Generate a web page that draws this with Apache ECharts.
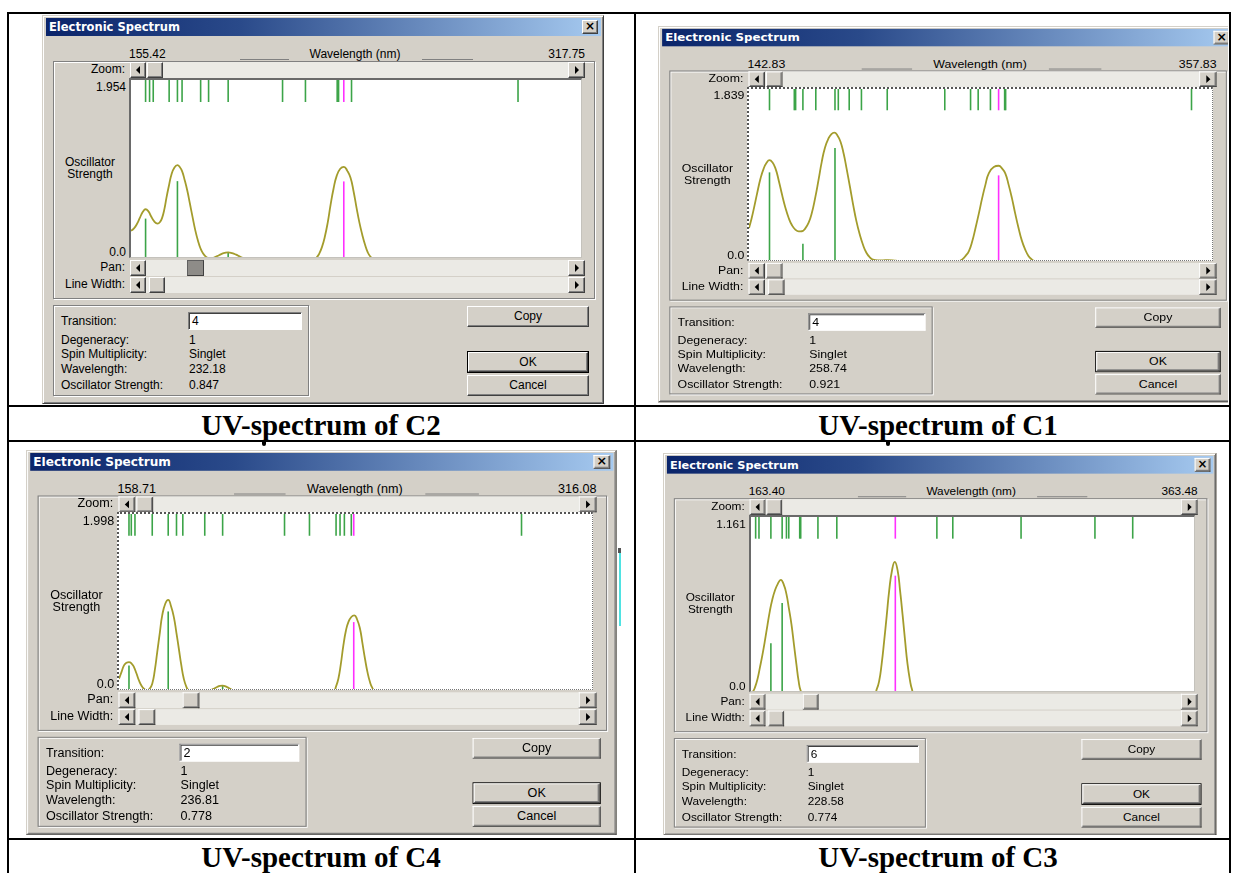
<!DOCTYPE html>
<html><head><meta charset="utf-8">
<script src="https://cdn.jsdelivr.net/npm/echarts@6/dist/echarts.min.js"></script>
<style>
*{box-sizing:border-box;}
body{margin:0;width:1239px;height:873px;background:#fff;position:relative;overflow:hidden;font-family:"Liberation Sans",Arial,sans-serif;}
</style></head><body>
<script>
// ---------------- DATA ----------------
const captions = ['UV-spectrum of C2', 'UV-spectrum of C1', 'UV-spectrum of C4', 'UV-spectrum of C3'];
const infoLabels = ['Transition:', 'Degeneracy:', 'Spin Multiplicity:', 'Wavelength:', 'Oscillator Strength:'];
const axisTitle = 'Wavelength (nm)';
const yTitle = ['Oscillator', 'Strength'];

// C2
const c2RangeLabels = ['155.42', '317.75'];
const c2Range = [155.42, 317.75];
const c2YTicks = ['0.0', '1.954'];
const c2YMax = 1.954;
const c2Wavelengths = [160.68, 162.12, 163.44, 169.18, 172.17, 173.84, 180.54, 183.41, 190.47, 210.09, 218.35, 229.8, 230.3, 232.18, 234.97, 295.03];
const c2Strengths   = [0.441, 0, 0, 0, 0.850, 0, 0, 0, 0.072, 0, 0, 0, 0, 0.847, 0, 0];
const c2Selected = 232.18;
const c2CurveX = [155.42, 156.5, 157.6, 158.65, 159.7, 160.68, 161.7, 162.6, 163.8, 164.99, 165.9, 166.67, 167.5, 168.22, 169.1, 170.02, 171.1, 172.17, 173.0, 173.84, 174.8, 175.76, 176.7, 177.67, 178.6, 179.58, 180.5, 181.38, 182.3, 183.17, 184.4, 185.57, 186.8, 187.96, 189.2, 190.47, 191.9, 193.34, 195.0, 196.93, 198.5, 221.46, 222.4, 223.25, 224.3, 225.28, 226.4, 227.44, 228.5, 229.59, 230.9, 232.22, 233.4, 234.61, 235.7, 236.77, 237.8, 238.8, 239.8, 240.83, 241.8, 242.75, 244.0, 317.75];
const c2CurveY = [0.308, 0.335, 0.385, 0.452, 0.515, 0.543, 0.520, 0.470, 0.410, 0.387, 0.405, 0.452, 0.550, 0.670, 0.800, 0.923, 1.000, 1.024, 1.005, 0.959, 0.860, 0.742, 0.600, 0.452, 0.315, 0.199, 0.115, 0.062, 0.028, 0.011, 0.008, 0.018, 0.036, 0.054, 0.066, 0.072, 0.064, 0.047, 0.022, 0.004, 0, 0, 0.018, 0.054, 0.130, 0.235, 0.400, 0.597, 0.770, 0.905, 0.985, 1.006, 0.965, 0.887, 0.740, 0.561, 0.400, 0.271, 0.160, 0.072, 0.025, 0.004, 0, 0];
const c2Info = ['4', '1', 'Singlet', '232.18', '0.847'];

// C1
const c1RangeLabels = ['142.83', '357.83'];
const c1Range = [142.83, 357.83];
const c1YTicks = ['0.0', '1.839'];
const c1YMax = 1.839;
const c1Wavelengths = [152.35, 163.87, 164.48, 167.86, 173.85, 182.76, 184.30, 189.36, 195.04, 207.02, 233.74, 245.72, 249.25, 254.94, 258.74, 261.54, 262.0, 348.31];
const c1Strengths   = [0.953, 0, 0, 0.193, 0, 1.213, 0, 0, 0, 0.02, 0, 0, 0, 0, 0.921, 0, 0, 0];
const c1Selected = 258.74;
const c1CurveX = [142.83, 144.0, 145.13, 146.6, 148.2, 149.6, 151.0, 152.35, 153.7, 155.11, 156.6, 158.19, 159.7, 161.26, 162.8, 164.33, 165.9, 167.4, 168.9, 170.47, 172.0, 173.54, 175.1, 176.61, 178.1, 179.69, 181.1, 182.45, 183.9, 185.37, 186.8, 188.13, 189.7, 191.2, 192.7, 194.27, 195.8, 197.35, 198.9, 200.42, 202.7, 205.02, 207.3, 209.63, 212.0, 214.24, 217.31, 238.81, 240.3, 241.88, 243.4, 244.95, 246.5, 248.02, 249.6, 251.1, 252.6, 254.17, 256.5, 258.77, 260.3, 261.84, 263.4, 264.92, 266.4, 267.99, 269.5, 271.06, 272.6, 274.13, 275.7, 277.2, 357.83];
const c1CurveY = [0.362, 0.460, 0.573, 0.730, 0.890, 0.990, 1.055, 1.083, 1.060, 0.995, 0.870, 0.714, 0.580, 0.468, 0.390, 0.345, 0.325, 0.327, 0.355, 0.415, 0.520, 0.679, 0.870, 1.065, 1.215, 1.311, 1.360, 1.375, 1.345, 1.276, 1.150, 0.995, 0.800, 0.608, 0.435, 0.292, 0.180, 0.098, 0.050, 0.025, 0.018, 0.018, 0.019, 0.018, 0.010, 0.004, 0, 0, 0.008, 0.028, 0.065, 0.116, 0.220, 0.362, 0.520, 0.679, 0.820, 0.942, 1.010, 1.023, 0.995, 0.942, 0.820, 0.679, 0.520, 0.362, 0.230, 0.134, 0.065, 0.028, 0.008, 0, 0];
const c1Info = ['4', '1', 'Singlet', '258.74', '0.921'];

// C4
const c4RangeLabels = ['158.71', '316.08'];
const c4Range = [158.71, 316.08];
const c4YTicks = ['0.0', '1.998'];
const c4YMax = 1.998;
const c4Wavelengths = [162.03, 162.80, 164.02, 169.77, 175.08, 177.84, 179.94, 187.24, 193.19, 213.78, 222.08, 230.93, 232.25, 233.69, 236.0, 236.81, 292.63];
const c4Strengths   = [0.289, 0, 0, 0, 0.898, 0, 0, 0, 0.056, 0, 0, 0, 0, 0, 0, 0.778, 0];
const c4Selected = 236.81;
const c4CurveX = [158.71, 159.5, 160.37, 161.2, 162.03, 162.9, 163.69, 164.5, 165.35, 166.2, 167.0, 168.11, 168.9, 169.77, 170.6, 171.43, 172.3, 173.09, 174.1, 175.08, 176.0, 176.96, 177.8, 178.62, 179.4, 180.27, 181.1, 181.93, 183.5, 188.0, 189.12, 190.2, 191.33, 192.3, 193.19, 194.2, 195.2, 196.3, 197.42, 230.04, 230.9, 231.7, 232.5, 233.36, 234.2, 235.02, 236.0, 237.0, 237.9, 238.89, 239.7, 240.55, 241.4, 242.21, 243.0, 243.87, 316.08];
const c4CurveY = [0.139, 0.210, 0.289, 0.318, 0.327, 0.310, 0.270, 0.200, 0.120, 0.060, 0.026, 0.008, 0.025, 0.083, 0.230, 0.439, 0.660, 0.853, 0.985, 1.029, 0.960, 0.834, 0.660, 0.477, 0.300, 0.139, 0.050, 0.008, 0, 0, 0.008, 0.025, 0.045, 0.057, 0.060, 0.052, 0.034, 0.014, 0, 0, 0.050, 0.139, 0.300, 0.515, 0.680, 0.777, 0.835, 0.853, 0.810, 0.702, 0.540, 0.364, 0.210, 0.101, 0.035, 0, 0];
const c4Info = ['2', '1', 'Singlet', '236.81', '0.778'];

// C3
const c3RangeLabels = ['163.40', '363.48'];
const c3Range = [163.40, 363.48];
const c3YTicks = ['0.0', '1.161'];
const c3YMax = 1.161;
const c3Wavelengths = [165.5, 167.0, 172.38, 177.47, 179.41, 180.46, 185.4, 185.85, 193.63, 202.16, 228.58, 247.35, 254.54, 285.37, 318.74, 335.8];
const c3Strengths   = [0, 0, 0.329, 0.593, 0, 0, 0, 0, 0, 0, 0.774, 0, 0, 0, 0, 0];
const c3Selected = 228.58;
const c3CurveX = [163.4, 164.3, 165.2, 166.3, 167.44, 168.6, 169.69, 170.8, 171.93, 173.0, 174.17, 175.5, 176.87, 178.2, 179.41, 180.5, 181.66, 182.8, 183.9, 184.9, 185.85, 186.9, 219.07, 220.2, 221.31, 222.4, 223.56, 224.7, 225.8, 227.1, 228.35, 229.6, 230.74, 231.9, 232.99, 234.1, 235.23, 236.1, 237.03, 363.48];
const c3CurveY = [0, 0.010, 0.037, 0.090, 0.169, 0.255, 0.345, 0.445, 0.542, 0.615, 0.674, 0.720, 0.746, 0.715, 0.652, 0.560, 0.454, 0.320, 0.191, 0.080, 0.015, 0, 0, 0.025, 0.081, 0.190, 0.345, 0.510, 0.674, 0.810, 0.865, 0.810, 0.674, 0.510, 0.345, 0.190, 0.081, 0.025, 0, 0];
const c3Info = ['6', '1', 'Singlet', '228.58', '0.774'];

// ---------------- STYLE / LAYOUT ----------------
const GREEN = '#3ca448', MAGENTA = '#ff30ff', CURVE = '#a39c2c';
const TOP_FRAC = 0.123;
const FACE = '#d4d0c8';

const panels = [
  {cap: 0, rl: c2RangeLabels, range: c2Range, yt: c2YTicks, ymax: c2YMax, w: c2Wavelengths, f: c2Strengths, sel: c2Selected, cx: c2CurveX, cy: c2CurveY, info: c2Info,
   x0: 42, y0: 15, sx: 1, sy: 1, pan: 144, panDown: true, dotted: false, capX: 321, capY: 425},
  {cap: 1, rl: c1RangeLabels, range: c1Range, yt: c1YTicks, ymax: c1YMax, w: c1Wavelengths, f: c1Strengths, sel: c1Selected, cx: c1CurveX, cy: c1CurveY, info: c1Info,
   x0: 657.5, y0: 26.1, sx: 1.0287, sy: 0.967, pan: 104, panDown: false, dotted: true, capX: 938, capY: 425},
  {cap: 2, rl: c4RangeLabels, range: c4Range, yt: c4YTicks, ymax: c4YMax, w: c4Wavelengths, f: c4Strengths, sel: c4Selected, cx: c4CurveX, cy: c4CurveY, info: c4Info,
   x0: 25.6, y0: 449.7, sx: 1.0508, sy: 0.989, pan: 148, panDown: false, dotted: true, capX: 321, capY: 857},
  {cap: 3, rl: c3RangeLabels, range: c3Range, yt: c3YTicks, ymax: c3YMax, w: c3Wavelengths, f: c3Strengths, sel: c3Selected, cx: c3CurveX, cy: c3CurveY, info: c3Info,
   x0: 663.3, y0: 453, sx: 0.9845, sy: 0.983, pan: 141, panDown: false, dotted: false, capX: 938, capY: 857}
];

function el(parent, css, text) {
  const e = document.createElement('div');
  e.style.cssText = 'position:absolute;' + css;
  if (text != null) e.textContent = text;
  parent.appendChild(e);
  return e;
}
function txt(parent, s, x, yc, align, extra) {
  const left = align === 'l' ? x : (align === 'r' ? x - 300 : x - 150);
  return el(parent, `left:${left}px;top:${yc - 8}px;width:300px;height:16px;line-height:16px;white-space:nowrap;` +
    `text-align:${align === 'l' ? 'left' : align === 'r' ? 'right' : 'center'};font-size:12px;color:#000;` + (extra || ''), s);
}
function btn(parent, x, y, w, h, extra) {
  return el(parent, `left:${x}px;top:${y}px;width:${w}px;height:${h}px;background:${FACE};border:1px solid;border-color:#fff #404040 #404040 #fff;box-shadow:inset -1px -1px 0 #808080;` + (extra || ''));
}
function arrow(parent, x, y, w, h, dir) {
  const b = btn(parent, x, y, w, h);
  el(b, `left:${(w - 2) / 2 - 2}px;top:${(h - 2) / 2 - 4}px;width:0;height:0;border-top:4px solid transparent;border-bottom:4px solid transparent;` +
    (dir < 0 ? 'border-right:4px solid #000;' : 'border-left:4px solid #000;'));
}
function scroll(parent, x, y, w, h, thumb, down) {
  el(parent, `left:${x}px;top:${y}px;width:${w}px;height:${h}px;background:#ebeae5;`);
  arrow(parent, x, y, 16, h, -1);
  arrow(parent, x + w - 17, y, 17, h, 1);
  if (down) {
    el(parent, `left:${thumb}px;top:${y}px;width:17px;height:${h}px;background:#8e8c88;border:1px solid;border-color:#606060 #404040 #404040 #606060;`);
  } else {
    btn(parent, thumb, y, 16, h);
  }
}
function etched(parent, x, y, w, h) {
  el(parent, `left:${x}px;top:${y}px;width:${w}px;height:${h}px;border:1px solid #808080;box-shadow:1px 1px 0 #fff, inset 1px 1px 0 #fff;`);
}

// ---------------- TABLE ----------------
const page = document.body;
const lines = [
  'left:7px;top:12px;width:1224px;height:2px;',
  'left:7px;top:12px;width:2px;height:861px;',
  'left:1229px;top:12px;width:2px;height:861px;',
  'left:634px;top:12px;width:2px;height:861px;',
  'left:7px;top:405px;width:1224px;height:2px;',
  'left:7px;top:440px;width:1224px;height:2px;',
  'left:7px;top:838px;width:1224px;height:2px;'
];
lines.forEach(c => el(page, c + 'background:#000;'));
// small anchor marks and stray cyan line from the source document
el(page, 'left:262px;top:441px;width:4px;height:5px;background:#000;border-radius:0 0 2px 2px;');
el(page, 'left:886px;top:441px;width:4px;height:5px;background:#000;border-radius:0 0 2px 2px;');
el(page, 'left:618px;top:548px;width:3px;height:5px;background:#555;');
el(page, 'left:619px;top:553px;width:2px;height:73px;background:#4fe3e3;');

// ---------------- DIALOGS ----------------
panels.forEach((p) => {
  const wrap = el(page, 'left:0;top:0;width:1228px;height:873px;overflow:hidden;z-index:2;');
  const d = el(wrap, `left:${p.x0}px;top:${p.y0}px;width:562px;height:389px;transform:scale(${p.sx},${p.sy});transform-origin:0 0;` +
    `background:${FACE};border:1px solid;border-color:${FACE} #404040 #404040 ${FACE};box-shadow:inset 1px 1px 0 #fff, inset -1px -1px 0 #808080;`);
  // title bar
  el(d, 'left:3px;top:2px;width:555px;height:18px;background:linear-gradient(to right,#0a246a 0%,#2a4a8a 35%,#a6caf0 100%);');
  txt(d, 'Electronic Spectrum', 6, 11, 'l', 'color:#fff;font-family:"DejaVu Sans",sans-serif;font-weight:bold;font-size:11.5px;');
  const cb = btn(d, 539, 4, 16, 14);
  el(cb, 'left:0;top:-2px;width:14px;height:14px;line-height:14px;text-align:center;font-family:"DejaVu Sans",sans-serif;font-weight:bold;font-size:12px;color:#000;', '\u00d7');
  // wavelength header
  txt(d, p.rl[0], 86, 38, 'l');
  txt(d, axisTitle, 312, 38, 'c');
  txt(d, p.rl[1], 542, 38, 'r');
  el(d, 'left:197px;top:43px;width:49px;height:1px;background:#808080;');
  el(d, 'left:379px;top:43px;width:51px;height:1px;background:#808080;');
  // group box
  etched(d, 10, 45, 542, 238);
  txt(d, 'Zoom:', 82, 53, 'r');
  scroll(d, 87, 46, 455, 16, 104, false);
  txt(d, p.yt[1], 83, 71, 'r');
  txt(d, p.yt[0], 83, 236, 'r');
  txt(d, yTitle[0], 47, 146, 'c');
  txt(d, yTitle[1], 47, 158, 'c');
  txt(d, 'Pan:', 82, 251, 'r');
  scroll(d, 87, 244, 455, 16, p.pan, p.panDown);
  txt(d, 'Line Width:', 82, 268, 'r');
  scroll(d, 87, 261, 455, 16, 106, false);
  // info box
  etched(d, 10, 289, 256, 91);
  const ys = [305, 324, 338, 353, 369];
  infoLabels.forEach((s, i) => {
    txt(d, s, 18, ys[i], 'l');
    if (i === 0) {
      const fld = el(d, 'left:145px;top:296px;width:114px;height:18px;background:#fff;border:1px solid;border-color:#808080 #fff #fff #808080;box-shadow:inset 1px 1px 0 #404040;');
      txt(fld, p.info[0], 3, 8, 'l');
    } else {
      txt(d, p.info[i], 146, ys[i], 'l');
    }
  });
  // buttons
  const copy = btn(d, 424, 290, 122, 21);
  txt(copy, 'Copy', 60, 9, 'c');
  const okFrame = el(d, 'left:424px;top:335px;width:122px;height:22px;border:1px solid #000;');
  const ok = btn(okFrame, 0, 0, 120, 20);
  txt(ok, 'OK', 59, 8.5, 'c');
  const cancel = btn(d, 424, 359, 122, 21);
  txt(cancel, 'Cancel', 60, 9, 'c');

  // ---- chart (ECharts) ----
  const px = p.x0 + 87 * p.sx, py = p.y0 + 63 * p.sy, pw = 453 * p.sx, ph = 180 * p.sy;
  const frame = p.dotted
    ? 'border-style:dotted;border-width:2px 1px 1px 2px;border-color:#555 #777 #777 #555;'
    : 'border-style:solid;border-width:2px 1px 1px 2px;border-color:#6a6a6a #c4c2bc #c4c2bc #6a6a6a;';
  const box = el(wrap, `left:${px}px;top:${py}px;width:${pw}px;height:${ph}px;background:#fff;overflow:hidden;${frame}z-index:3;`);
  // chart is 4px taller than the visible area so the zero baseline of the curve hides just below the frame
  const cdiv = el(box, `left:0;top:0;width:${pw - 3}px;height:${ph - 3 + 4}px;`);
  const chart = echarts.init(cdiv, null, {renderer: 'canvas'});
  const stickData = p.w.map((w, i) => [w, p.f[i], w === p.sel ? 1 : 0]);
  chart.setOption({
    animation: false,
    grid: {left: 0, right: 0, top: 0, bottom: 2, containLabel: false},
    xAxis: {type: 'value', min: p.range[0], max: p.range[1], show: false},
    yAxis: {type: 'value', min: 0, max: p.ymax, show: false},
    series: [
      {type: 'line', data: p.cx.map((x, i) => [x, p.cy[i]]), smooth: 0.5, showSymbol: false, silent: true, clip: false,
       lineStyle: {color: CURVE, width: 1.8}},
      {type: 'custom', silent: true, data: stickData,
       renderItem: (params, api) => {
         const f = api.value(1);
         if (!(f > 0)) return null;
         const a = api.coord([api.value(0), 0]), b = api.coord([api.value(0), f]);
         return {type: 'line', shape: {x1: a[0], y1: a[1], x2: b[0], y2: b[1]},
           style: {stroke: api.value(2) ? MAGENTA : GREEN, lineWidth: 1.6}};
       }},
      {type: 'custom', silent: true, data: stickData,
       renderItem: (params, api) => {
         const a = api.coord([api.value(0), p.ymax]), b = api.coord([api.value(0), p.ymax * (1 - TOP_FRAC)]);
         return {type: 'line', shape: {x1: a[0], y1: a[1], x2: b[0], y2: b[1]},
           style: {stroke: api.value(2) ? MAGENTA : GREEN, lineWidth: 1.6}};
       }}
    ]
  });

  // caption
  txt(page, captions[p.cap], p.capX, p.capY, 'c', 'font-family:"Liberation Serif","Times New Roman",serif;font-weight:bold;font-size:29px;line-height:16px;');
});
</script>
</body></html>
